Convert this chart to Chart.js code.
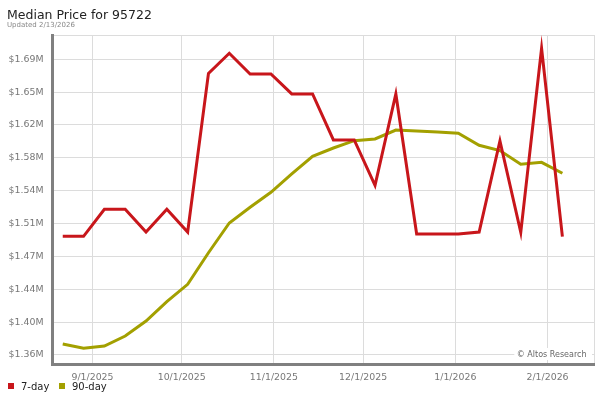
<!DOCTYPE html>
<html>
<head>
<meta charset="utf-8">
<script src="https://cdn.jsdelivr.net/npm/chart.js@4/dist/chart.umd.min.js"></script>
<style>
  html, body { margin: 0; padding: 0; background: #fff; }
  #wrap { width: 600px; height: 400px; position: relative; }
</style>
</head>
<body>
<div id="wrap"><canvas id="c" width="600" height="400"></canvas></div>
<script>
// ---- Data ----
const titleText = 'Median Price for 95722';
const subtitleText = 'Updated 2/13/2026';
const watermarkText = '\u00A9 Altos Research';

const dates = [
  '2025-08-22','2025-08-29','2025-09-05','2025-09-12','2025-09-19','2025-09-26',
  '2025-10-03','2025-10-10','2025-10-17','2025-10-24','2025-10-31',
  '2025-11-07','2025-11-14','2025-11-21','2025-11-28',
  '2025-12-05','2025-12-12','2025-12-19','2025-12-26',
  '2026-01-02','2026-01-09','2026-01-16','2026-01-23','2026-01-30',
  '2026-02-06'
];
const sevenDay = [
  1494000, 1494000, 1523600, 1523600, 1498700, 1523600, 1498700,
  1672500, 1694600, 1671900, 1671900, 1650000, 1650000,
  1599600, 1599600, 1549900, 1650000,
  1496600, 1496600, 1496600, 1498700, 1598500, 1498400, 1700000, 1493600
];
const ninetyDay = [
  1376000, 1371300, 1373800, 1384800, 1401200, 1422400, 1441400,
  1476000, 1508600, 1525800, 1542200, 1562300, 1581700,
  1590800, 1598800, 1600700, 1610500,
  1609400, 1608300, 1606900, 1593800, 1588000, 1572900, 1575100, 1563100
];
const seriesNames = ['7-day', '90-day'];
const seriesColors = ['#c8161b', '#a3a000'];

const xTickDates = ['2025-09-01','2025-10-01','2025-11-01','2025-12-01','2026-01-01','2026-02-01'];
const xTickLabels = ['9/1/2025','10/1/2025','11/1/2025','12/1/2025','1/1/2026','2/1/2026'];
const xRangeDates = ['2025-08-18T09:20:00Z', '2026-02-16T15:00:00Z'];

const yTicks = [1364000, 1400000, 1436000, 1472000, 1508000, 1544000, 1580000, 1616000, 1652000, 1688000];
const yRange = [1354100, 1714600];

// ---- Helpers ----
const DAY = 86400000;
const t0 = Date.parse(dates[0] + 'T00:00:00Z');
const toDay = s => (Date.parse(s.length > 10 ? s : s + 'T00:00:00Z') - t0) / DAY;
const xMin = toDay(xRangeDates[0]);
const xMax = toDay(xRangeDates[1]);
const xTickVals = xTickDates.map(toDay);
const fmtY = v => '$' + (v / 1e6).toFixed(2) + 'M';

const pts = arr => arr.map((v, i) => ({ x: toDay(dates[i]), y: v }));

Chart.defaults.font.family = "'DejaVu Sans', sans-serif";

const overlay = {
  id: 'overlay',
  afterDraw(chart) {
    const ctx = chart.ctx;
    const a = chart.chartArea;
    ctx.save();
    // title
    ctx.textAlign = 'left';
    ctx.textBaseline = 'alphabetic';
    ctx.fillStyle = '#222';
    ctx.font = "12.5px 'DejaVu Sans'";
    ctx.fillText(titleText, 7, 18.5);
    ctx.fillStyle = '#888';
    ctx.font = "7px 'DejaVu Sans'";
    ctx.fillText(subtitleText, 7, 27);
    // watermark
    ctx.font = "8px 'DejaVu Sans'";
    const w = ctx.measureText(watermarkText).width;
    ctx.fillStyle = '#fff';
    ctx.fillRect(a.right - 8 - w - 2, a.bottom - 16, w + 8, 12);
    ctx.fillStyle = '#666';
    ctx.textAlign = 'right';
    ctx.fillText(watermarkText, a.right - 7.5, a.bottom - 7);
    // legend
    ctx.textAlign = 'left';
    ctx.font = "10px 'DejaVu Sans'";
    const lx = [8, 59];
    seriesNames.forEach((n, i) => {
      ctx.fillStyle = seriesColors[i];
      ctx.fillRect(lx[i], 383, 6, 6);
      ctx.fillStyle = '#222';
      ctx.fillText(n, lx[i] + 13, 390);
    });
    ctx.restore();
  }
};

new Chart(document.getElementById('c'), {
  type: 'line',
  data: {
    datasets: [
      { label: seriesNames[0], data: pts(sevenDay), borderColor: seriesColors[0], backgroundColor: seriesColors[0],
        borderWidth: 3, pointRadius: 0, tension: 0, fill: false },
      { label: seriesNames[1], data: pts(ninetyDay), borderColor: seriesColors[1], backgroundColor: seriesColors[1],
        borderWidth: 3, pointRadius: 0, tension: 0, fill: false }
    ]
  },
  options: {
    responsive: false,
    animation: false,
    layout: { padding: { left: 0, right: 6, top: 35, bottom: 0 } },
    plugins: { legend: { display: false }, title: { display: false }, tooltip: { enabled: false } },
    scales: {
      x: {
        type: 'linear',
        min: xMin, max: xMax,
        afterFit: s => { s.height = 36; },
        afterBuildTicks: s => { s.ticks = xTickVals.concat([xMax]).map(v => ({ value: v })); },
        grid: { color: '#dcdcdc', lineWidth: 1, drawTicks: true, tickLength: 3, tickColor: 'rgba(0,0,0,0)' },
        border: { color: '#808080', width: 3 },
        ticks: {
          autoSkip: false, maxRotation: 0, padding: 5,
          color: '#777', font: { size: 9.4 },
          callback: v => { const i = xTickVals.indexOf(v); return i >= 0 ? xTickLabels[i] : ''; }
        }
      },
      y: {
        type: 'linear',
        min: yRange[0], max: yRange[1],
        afterFit: s => { s.width = 52; },
        afterBuildTicks: s => { s.ticks = yTicks.concat([yRange[1]]).map(v => ({ value: v })); },
        grid: { color: '#dcdcdc', lineWidth: 1, drawTicks: false },
        border: { color: '#808080', width: 3 },
        ticks: {
          autoSkip: false, padding: 8.5,
          color: '#777', font: { size: 9.4 },
          callback: v => (v === yRange[1] ? '' : fmtY(v))
        }
      }
    }
  },
  plugins: [overlay]
});
</script>
</body>
</html>
